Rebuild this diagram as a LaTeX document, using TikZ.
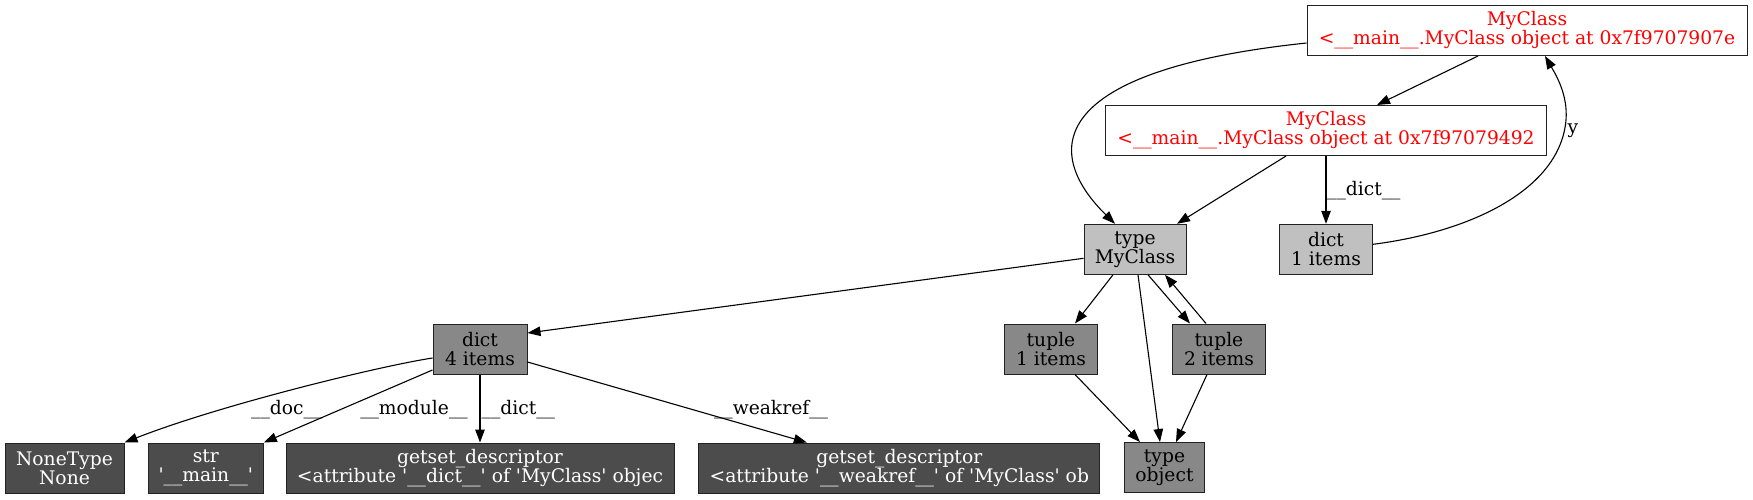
\documentclass[tikz,border=0pt]{standalone}
\usepackage{fontspec}
\setmainfont{DejaVu Serif}
\usetikzlibrary{arrows.meta}
\definecolor{lvlA}{HTML}{C0C0C0}
\definecolor{lvlB}{HTML}{888888}
\definecolor{lvlC}{HTML}{4C4C4C}
\definecolor{rim}{HTML}{222222}
\begin{document}
\begin{tikzpicture}[x=1pt,y=-1pt,
  obj/.style={draw=rim, line width=1pt, inner sep=0pt, align=center,
    font=\fontsize{18.7}{19}\selectfont, minimum height=50pt},
  target/.style={obj, fill=white, text=red},
  lvlone/.style={obj, fill=lvlA},
  lvltwo/.style={obj, fill=lvlB},
  lvlthree/.style={obj, fill=lvlC, text=white},
  conn/.style={line width=1.1pt, -{Triangle[length=13pt,width=9.5pt]}},
  lbl/.style={inner sep=0pt, font=\fontsize{18.7}{19}\selectfont}]
\useasboundingbox (0,0) rectangle (1753,499);
\node[target, minimum width=440pt] (A) at (1527,30.5) {MyClass\\<\_\_main\_\_.MyClass object at 0x7f9707907e};
\node[target, minimum width=441pt] (B) at (1326,130.5) {MyClass\\<\_\_main\_\_.MyClass object at 0x7f97079492};
\node[lvlone, minimum width=102pt] (T) at (1135,249.3) {type\\MyClass};
\node[lvlone, minimum width=93pt] (D1) at (1326,249.3) {dict\\1 items};
\node[lvltwo, minimum width=94pt] (D4) at (480,349) {dict\\4 items};
\node[lvltwo, minimum width=93pt] (Tu1) at (1051,349) {tuple\\1 items};
\node[lvltwo, minimum width=93pt] (Tu2) at (1219,349) {tuple\\2 items};
\node[lvltwo, minimum width=80pt] (Obj) at (1164.5,467.5) {type\\object};
\node[lvlthree, minimum width=119pt] (None) at (64.5,468) {NoneType\\None};
\node[lvlthree, minimum width=115pt] (Str) at (205.8,468) {str\\\textquotesingle\_\_main\_\_\textquotesingle};
\node[lvlthree, minimum width=388pt] (G1) at (480,468) {getset\_descriptor\\<attribute \textquotesingle\_\_dict\_\_\textquotesingle{} of \textquotesingle MyClass\textquotesingle{} objec};
\node[lvlthree, minimum width=401pt] (G2) at (899.3,468) {getset\_descriptor\\<attribute \textquotesingle\_\_weakref\_\_\textquotesingle{} of \textquotesingle MyClass\textquotesingle{} ob};

% edges
\draw[conn] ([yshift=-12.5pt]A.west) .. controls (1050,70) and (1040,150) .. ([xshift=-20pt]T.north);
\draw[conn] ([xshift=-49pt]A.south) -- ([xshift=51pt]B.north);
\draw[conn] ([xshift=-40pt]B.south) -- ([xshift=42pt]T.north);
\draw[conn] (B.south) -- (D1.north);
\draw[conn] ([yshift=5pt]D1.east) .. controls (1470,232) and (1560,190) .. (1566,120) .. controls (1568,95) and (1556,75) .. ([xshift=18pt]A.south);
\draw[conn] ([yshift=-9pt]T.west) -- ([yshift=16pt]D4.east);
\draw[conn] ([xshift=-22pt]T.south) -- ([xshift=24pt]Tu1.north);
\draw[conn] ([xshift=3pt]T.south) -- ([xshift=-4.5pt]Obj.north);
\draw[conn] ([xshift=13pt]T.south) -- ([xshift=-29pt]Tu2.north);
\draw[conn] ([xshift=-13pt]Tu2.north) -- ([xshift=30pt]T.south);
\draw[conn] ([xshift=24pt]Tu1.south) -- ([xshift=-24.5pt]Obj.north);
\draw[conn] ([xshift=-12pt]Tu2.south) -- ([xshift=11.5pt]Obj.north);
\draw[conn] ([yshift=-9pt]D4.west) .. controls (380,366) and (220,405) .. (None.north east);
\draw[conn] ([yshift=-21pt]D4.west) -- (Str.north east);
\draw[conn] (D4.south) -- (G1.north);
\draw[conn] ([yshift=-13pt]D4.east) -- ([xshift=-92.5pt]G2.north);

% labels
\node[lbl, anchor=base west] (lbdict) at (1327,195) {\_\_dict\_\_};
\node[lbl, anchor=base] (lby) at (1573,133) {y};
\node[lbl, anchor=base] (lbdoc) at (286.7,414) {\_\_doc\_\_};
\node[lbl, anchor=base] (lbmod) at (414,414) {\_\_module\_\_};
\node[lbl, anchor=base west] (lbdict2) at (481.5,414) {\_\_dict\_\_};
\node[lbl, anchor=base] (lbweak) at (771,414) {\_\_weakref\_\_};
\end{tikzpicture}
\end{document}
